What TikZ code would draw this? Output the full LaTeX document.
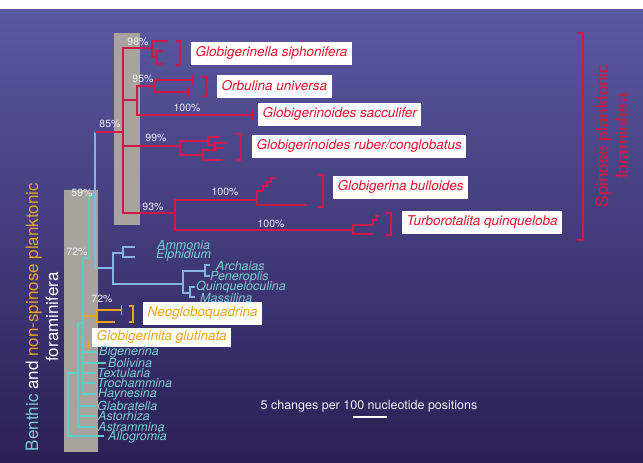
\documentclass[tikz,border=0pt]{standalone}
\usepackage{fontspec}
\setmainfont{TeX Gyre Heros}
\definecolor{bgtop}{HTML}{5A58A0}
\definecolor{bgbot}{HTML}{2B2056}
\definecolor{barg}{HTML}{A8A39D}
\definecolor{spinred}{HTML}{D0184A}
\definecolor{taxred}{HTML}{E8102E}
\definecolor{lblue}{HTML}{86B6E0}
\definecolor{tealln}{HTML}{5CCCC4}
\definecolor{tealtx}{HTML}{7CCCD0}
\definecolor{orng}{HTML}{E8A41C}
\definecolor{pctw}{HTML}{ECECF4}

\begin{document}
\begin{tikzpicture}[x=1pt,y=-1pt,
  spin/.style={spinred,line width=1.5pt},
  twig/.style={spinred,line width=1.3pt},
  benth/.style={lblue,line width=1.3pt},
  ladder/.style={tealln,line width=1.1pt},
  nonsp/.style={orng,line width=1.4pt},
  brk/.style={line width=1.2pt},
  pct/.style={text=pctw,font=\fontsize{10.5}{11}\selectfont},
  taxon/.style={fill=white,anchor=west,inner xsep=4.5pt,inner ysep=0pt,
    minimum height=23pt,font=\fontsize{13.5}{14}\selectfont\itshape},
  genus/.style={text=tealtx,anchor=west,inner sep=0pt,
    font=\fontsize{12.5}{12}\selectfont\itshape}]
  \useasboundingbox (0,0) rectangle (643,463);

  % Background and grey bars
  \fill[white] (0,0) rectangle (643,9);
  \shade[top color=bgtop,bottom color=bgbot] (0,9) rectangle (643,463);
  \fill[barg] (114,33) rectangle (140,225);
  \fill[barg] (64,190) rectangle (98,452);

  % Spinose clade
  \coordinate (n85) at (123,132);
  \coordinate (gsi) at (152,48);
  \coordinate (gs1) at (168,41);
  \coordinate (gs2) at (157,57);
  \coordinate (gs3) at (163,51);
  \coordinate (gs4) at (163,64);
  \coordinate (n95) at (137,100);
  \coordinate (orb) at (155,86);
  \coordinate (orb1) at (193,80);
  \coordinate (orb2) at (189,92);
  \coordinate (sac) at (253,115);
  \coordinate (n99) at (180,146);
  \coordinate (ra) at (208,141);
  \coordinate (ra1) at (220,137);
  \coordinate (ra2) at (215,145);
  \coordinate (ra3) at (227,143);
  \coordinate (ra4) at (224,148);
  \coordinate (rb) at (203,155);
  \coordinate (rb1) at (217,150);
  \coordinate (rb2) at (222,160);
  \coordinate (n93) at (175,213);
  \coordinate (bu) at (257,200);
  \coordinate (bu1) at (263,191);
  \coordinate (bu2) at (307,205);
  \coordinate (tq) at (353,230);
  \coordinate (tq1) at (373,225);
  \coordinate (tq2) at (373,234);

  \draw[spin] (n85) |- (gsi);
  \draw[spin] (n85) |- (n95);
  \draw[spin] (n85) |- (n99);
  \draw[spin] (n85) |- (n93);
  \draw[spin] (gsi) |- (gs1);
  \draw[twig] (gsi) |- (gs2);
  \draw[twig] (gs2) |- (gs3);
  \draw[twig] (gs2) |- (gs4);
  \draw[spin] (n95) |- (orb);
  \draw[spin,-|] (orb) |- (orb1);
  \draw[spin,-|] (orb) |- (orb2);
  \draw[spin,-|] (n95) |- (sac);
  \draw[spin] (n99) |- (ra);
  \draw[twig] (ra) |- (ra1);
  \draw[twig] (ra) |- (ra2);
  \draw[twig] (ra2) |- (ra3);
  \draw[twig] (ra2) |- (ra4);
  \draw[spin] (n99) |- (rb);
  \draw[twig] (rb) |- (rb1);
  \draw[twig] (rb) |- (rb2);
  \draw[spin] (n93) |- (bu);
  \draw[twig] (bu) |- (bu1);
  \draw[twig] (bu) |- (bu2);
  \draw[twig] (bu1) -- ++(0,-5) -- ++(4,0) -- ++(0,-4) -- ++(4,0)
    -- ++(0,-4) -- ++(5,0);
  \draw[spin] (n93) |- (tq);
  \draw[twig] (tq) |- (tq1);
  \draw[twig] (tq) |- (tq2);
  \draw[twig] (tq1) -- ++(0,-5) -- ++(3,0) -- ++(0,-4) -- ++(3,0);

  % Benthic clade
  \coordinate (nb) at (95,196);
  \coordinate (am) at (113,268);
  \coordinate (amm) at (123,253);
  \coordinate (amA) at (135,247);
  \coordinate (amE) at (135,257);
  \coordinate (arc) at (183,284);
  \coordinate (ar1) at (205,271);
  \coordinate (ar1a) at (210,265);
  \coordinate (ar1b) at (210,276);
  \coordinate (ar2) at (190,293);
  \coordinate (ar2a) at (195,287);
  \coordinate (ar2b) at (195,297);

  \draw[benth] (nb) -- (nb |- n85);
  \draw[spin] (nb |- n85) -- (n85);
  \draw[benth] (nb) |- (am);
  \draw[benth] (am) |- (amm);
  \draw[benth] (amm) |- (amA);
  \draw[benth] (amm) |- (amE);
  \draw[benth] (am) |- (arc);
  \draw[benth] (arc) |- (ar1);
  \draw[benth] (ar1) |- (ar1a);
  \draw[benth] (ar1) |- (ar1b);
  \draw[benth] (arc) |- (ar2);
  \draw[benth] (ar2) |- (ar2a);
  \draw[benth] (ar2) |- (ar2b);

  % Ladder of benthic genera
  \coordinate (t59) at (89,196);
  \coordinate (t72) at (83,258);
  \coordinate (t2) at (78,323);
  \coordinate (t3) at (68,373);
  \coordinate (big) at (97,352);
  \coordinate (bol) at (106,363);
  \coordinate (tex) at (96,373);
  \coordinate (tro) at (96,383);
  \coordinate (hay) at (96,394);
  \coordinate (gla) at (96,406);
  \coordinate (ast) at (96,416);
  \coordinate (asm) at (96,427);
  \coordinate (all) at (104,436);

  \draw[ladder] (nb) -- (t59);
  \draw[ladder] (t59) |- (t72);
  \draw[ladder] (t72) |- (big);
  \draw[ladder] (t72) |- (bol);
  \draw[ladder] (t72) |- (tex);
  \draw[ladder] (t72) |- (tro);
  \draw[ladder] (t72) |- (hay);
  \draw[ladder] (t72) |- (t2);
  \draw[ladder] (t2) |- (gla);
  \draw[ladder] (t2) |- (ast);
  \draw[ladder] (t2) |- (asm);
  \draw[ladder] (t2) |- (t3);
  \draw[ladder] (t3) |- (all);

  % Non-spinose planktonic
  \coordinate (nst) at (83,316);
  \coordinate (neo) at (97,316);
  \coordinate (neo1) at (122,310);
  \coordinate (neo2) at (115,322);
  \coordinate (glu) at (88,341);
  \draw[nonsp] (nst) -- (neo);
  \draw[nonsp,-|] (neo) |- (neo1);
  \draw[nonsp] (neo) |- (neo2);
  \draw[nonsp] (glu) -- ++(0,8);

  % Brackets
  \draw[brk,spinred] (176,41) -| (180,65) -- ++(-4,0);
  \draw[brk,spinred] (202,77) -| (206,96) -- ++(-4,0);
  \draw[brk,spinred] (236,134) -| (241,160) -- ++(-5,0);
  \draw[brk,spinred] (318,175) -| (323,207) -- ++(-5,0);
  \draw[brk,spinred] (386,213) -| (391,235) -- ++(-5,0);
  \draw[brk,spinred] (577,33) -| (583,240) -- ++(-6,0);
  \draw[brk,orng] (129,306) -| (133,322) -- ++(-4,0);

  % Bootstrap values
  \node[pct] (p98) at (138,42) {98\%};
  \node[pct] (p95) at (143,79) {95\%};
  \node[pct] (p100a) at (187,108) {100\%};
  \node[pct] (p85) at (110,124) {85\%};
  \node[pct] (p99) at (156,138) {99\%};
  \node[pct] (p100b) at (225,192) {100\%};
  \node[pct] (p93) at (153,207) {93\%};
  \node[pct] (p100c) at (271,224) {100\%};
  \node[pct] (p59) at (82,193) {59\%};
  \node[pct] (p72a) at (77,252) {72\%};
  \node[pct] (p72b) at (102,299) {72\%};

  % Spinose taxa
  \node[taxon,text=taxred] (tsi) at (191,53) {Globigerinella siphonifera};
  \node[taxon,text=taxred] (tor) at (217,86) {Orbulina universa};
  \node[taxon,text=taxred] (tsa) at (258,114) {Globigerinoides sacculifer};
  \node[taxon,text=taxred] (tru) at (252,146) {Globigerinoides ruber/conglobatus};
  \node[taxon,text=taxred] (tbu) at (333,187) {Globigerina bulloides};
  \node[taxon,text=taxred] (ttq) at (402,222) {Turborotalita quinqueloba};

  % Non-spinose taxa
  \node[taxon,text=orng] (tne) at (143,313) {Neogloboquadrina};
  \node[taxon,text=orng,minimum height=19pt] (tgl) at (92,337) {Globigerinita glutinata};

  % Benthic genera
  \node[genus] (gAm) at (157,245) {Ammonia};
  \node[genus] (gEl) at (156,255) {Elphidium};
  \node[genus] (gAr) at (216,266) {Archaias};
  \node[genus] (gPe) at (210,277) {Peneroplis};
  \node[genus] (gQu) at (196,287) {Quinqueloculina};
  \node[genus] (gMa) at (200,298) {Massilina};
  \node[genus] (gBi) at (99,352) {Bigenerina};
  \node[genus] (gBo) at (108,363) {Bolivina};
  \node[genus] (gTe) at (97,373) {Textularia};
  \node[genus] (gTr) at (97,383) {Trochammina};
  \node[genus] (gHa) at (98,394) {Haynesina};
  \node[genus] (gGl) at (97,406) {Glabratella};
  \node[genus] (gAs) at (98,416) {Astorhiza};
  \node[genus] (gAt) at (98,427) {Astrammina};
  \node[genus] (gAl) at (108,437) {Allogromia};

  % Group labels
  \node[taxred,rotate=90,align=center,font=\fontsize{17}{20}\selectfont]
    (spl) at (612,136) {Spinose planktonic\\foraminfera};
  \node[white,rotate=90,align=center,font=\fontsize{17}{20}\selectfont]
    (bpl) at (42,317) {\textcolor{tealtx}{Benthic} and
    \textcolor{orng}{non-spinose planktonic}\\foraminifera};

  % Scale bar
  \node[pctw,font=\fontsize{12.5}{13}\selectfont] (scl) at (369,406)
    {5 changes per 100 nucleotide positions};
  \coordinate (sb1) at (353,417);
  \coordinate (sb2) at (387,417);
  \draw[white,line width=1.4pt] (sb1) -- (sb2);
\end{tikzpicture}
\end{document}
